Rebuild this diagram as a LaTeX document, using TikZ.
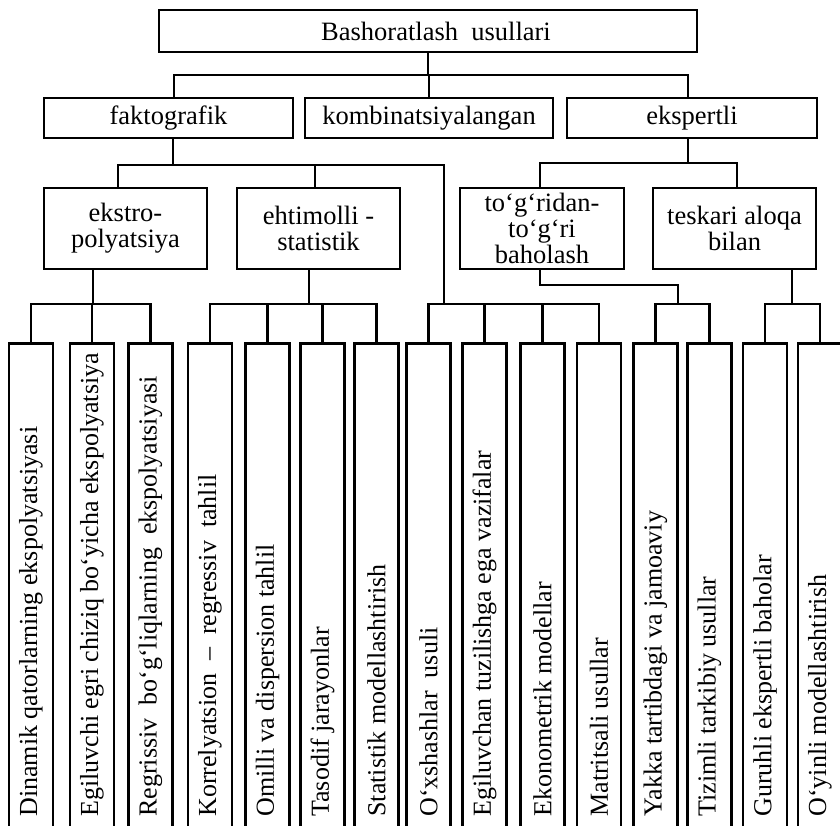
\documentclass[tikz,border=0pt]{standalone}
\usepackage{fontspec}
\setmainfont{Liberation Serif}
\usetikzlibrary{calc}
\begin{document}
\begin{tikzpicture}[x=1pt,y=-1pt,line width=2.7pt,
  box/.style={draw,rectangle,inner sep=0pt,align=center,font=\fontsize{26.5}{26}\selectfont},
  col/.style={draw,rectangle,inner sep=0pt,minimum width=44pt,minimum height=520pt,anchor=north},
  vtext/.style={rotate=90,anchor=west,inner sep=0pt,font=\fontsize{26}{26}\selectfont}]
\useasboundingbox (0,0) rectangle (840,826);
\fill[white] (0,0) rectangle (840,826);
\clip (0,0) rectangle (840,826);
% levels
\coordinate (L1) at (0,75);
\coordinate (L2) at (0,165);
\coordinate (L2e) at (0,163);
\coordinate (L3) at (0,304);
\coordinate (L4) at (0,285);
\coordinate (k) at (444,0);
\coordinate (m) at (678,0);
% top
\node[box,minimum width=538pt,minimum height=42pt] (top) at (428,31) {\hspace*{16pt}Bashoratlash\ \ usullari};
% row 2
\node[box,minimum width=249pt,minimum height=40pt] (fak) at (168.5,118) {faktografik};
\node[box,minimum width=248pt,minimum height=40pt] (komb) at (429,118) {kombinatsiyalangan};
\node[box,minimum width=250pt,minimum height=40pt] (eksp) at (692,118) {ekspertli};
% row 3
\node[box,minimum width=163pt,minimum height=81pt] (ekstro) at (125.5,228.5) {ekstro-\\polyatsiya};
\node[box,minimum width=163pt,minimum height=81pt] (ehtim) at (318.5,228.5) {ehtimolli -\\statistik};
\node[box,minimum width=164pt,minimum height=81pt] (togri) at (542,228.5) {to‘g‘ridan-\\to‘g‘ri\\baholash};
\node[box,minimum width=163pt,minimum height=81pt] (tesk) at (734.5,228.5) {teskari aloqa\\bilan};
% columns
\foreach \i/\x in {1/31,2/92,3/150.5,4/210,5/267.5,6/322.5,7/376.5,8/428.5,9/484.5,10/542.5,11/599,12/655.5,13/709.5,14/765,15/820}{
  \node[col] (b\i) at (\x,342) {};
}
\foreach \i/\t in {1/{Dinamik qatorlarning ekspolyatsiyasi},
  2/{Egiluvchi egri chiziq bo‘yicha ekspolyatsiya},
  3/{Regrissiv\ \ bo‘g‘liqlarning\ \ ekspolyatsiyasi},
  4/{Korrelyatsion\ \ –\ \ regressiv\ \ tahlil},
  5/{Omilli va dispersion tahlil},
  6/{Tasodif jarayonlar},
  7/{Statistik modellashtirish},
  8/{O‘xshashlar\ \ usuli},
  9/{Egiluvchan tuzilishga ega vazifalar},
  10/{Ekonometrik modellar},
  11/{Matritsali usullar},
  12/{Yakka tartibdagi va jamoaviy},
  13/{Tizimli tarkibiy usullar},
  14/{Guruhli ekspertli baholar},
  15/{O‘yinli modellashtirish}}{
  \node[vtext] (t\i) at (b\i.north |- 0,818) {\t};
}
% connection points
\coordinate (fkU) at ($(fak.north)+(5.5,0)$);
\coordinate (fkD) at ($(fak.south)+(4.5,0)$);
\coordinate (esU) at ($(eksp.north)+(-4,0)$);
\coordinate (esD) at ($(eksp.south)+(-4,0)$);
\coordinate (ekU) at ($(ekstro.north)+(-7.5,0)$);
\coordinate (ekD) at ($(ekstro.south)+(-32.5,0)$);
\coordinate (ehU) at ($(ehtim.north)+(-3.5,0)$);
\coordinate (ehD) at ($(ehtim.south)+(-9.5,0)$);
\coordinate (tgU) at ($(togri.north)+(-2,0)$);
\coordinate (tgD) at ($(togri.south)+(-2,0)$);
\coordinate (tsU) at ($(tesk.north)+(2.5,0)$);
\coordinate (tsD) at ($(tesk.south)+(57.5,0)$);
% connectors
\draw (top.south) -- (top.south |- L1);
\draw (fkU) |- (esU |- L1) -- (esU);
\draw (komb.north) -- (komb.north |- L1);
\draw (fkD) -- (fkD |- L2);
\draw (ekU) |- (k |- L2) -- (k |- L3);
\draw (ehU) -- (ehU |- L2);
\draw (esD) -- (esD |- L2e);
\draw (tgU) |- (tsU |- L2e) -- (tsU);
\draw (ekD) -- (ekD |- L3);
\draw (b1.north) |- (b3.north |- L3) -- (b3.north);
\draw (b2.north) -- (b2.north |- L3);
\draw (ehD) -- (ehD |- L3);
\draw (b4.north) |- (b7.north |- L3) -- (b7.north);
\draw (b5.north) -- (b5.north |- L3);
\draw (b6.north) -- (b6.north |- L3);
\draw (b8.north) |- (b11.north |- L3) -- (b11.north);
\draw (b9.north) -- (b9.north |- L3);
\draw (b10.north) -- (b10.north |- L3);
\draw (tgD) |- (m |- L4) -- (m |- L3);
\draw (b12.north) |- (b13.north |- L3) -- (b13.north);
\draw (tsD) -- (tsD |- L3);
\draw (b14.north) |- (b15.north |- L3) -- (b15.north);
\end{tikzpicture}
\end{document}
